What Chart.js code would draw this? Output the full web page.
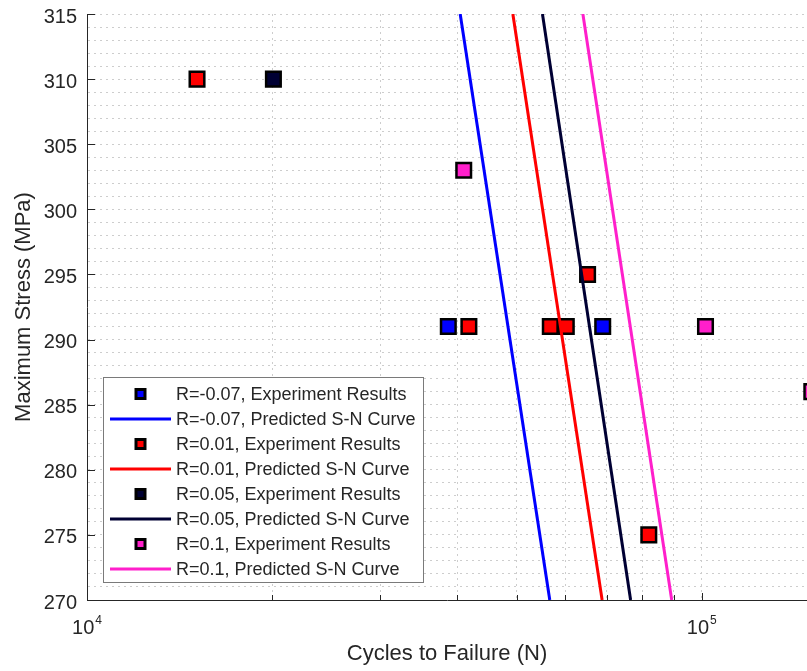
<!DOCTYPE html>
<html>
<head>
<meta charset="utf-8">
<title>S-N curves</title>
<script src="https://cdn.jsdelivr.net/npm/chart.js@4.4.0/dist/chart.umd.min.js"></script>
<style>
  html, body { margin: 0; padding: 0; background: #fff; }
  #wrap { width: 807px; height: 671px; }
</style>
</head>
<body>
<div id="wrap"><canvas id="sn-chart" width="807" height="671"></canvas></div>
<script>
// stress ratios and their colours
var ratios = ['R=-0.07', 'R=0.01', 'R=0.05', 'R=0.1'];
var colors = ['#0000ff', '#ff0000', '#000033', '#ff1fcb'];

// experiment results: cycles to failure (N) / max stress (MPa)
var expCycles = [
	[38700, 69000],
	[15100, 41800, 56700, 60200, 65200, 82000],
	[20100],
	[41000, 101400, 151000]
];
var expStress = [
	[291, 291],
	[310, 291, 291, 291, 295, 275],
	[310],
	[303, 291, 286]
];

// predicted S-N curves (straight on log x), read at top and bottom of the plot
var curveStress = [315, 270];
var curveCycles = [
	[40460, 56590],
	[49280, 68850],
	[55060, 76600],
	[64060, 89350]
];

// axes
var xMin = 10000, xMax = 148300;
var xGrid = [10000, 20000, 30000, 40000, 50000, 60000, 70000, 80000, 90000, 100000];
var xMajor = [10000, 100000];
var xExponents = ['4', '5'];
var yMin = 270, yMax = 315;
var yTicks = [270, 275, 280, 285, 290, 295, 300, 305, 310, 315];

var fontFamily = "'Liberation Sans', Arial, Helvetica, sans-serif";
var ink = '#262626';
var gridColor = '#cdcdcd';

var datasets = [];
ratios.forEach(function (r, i) {
	datasets.push({
		label: r + ', Experiment Results',
		data: expCycles[i].map(function (c, k) { return {x: c, y: expStress[i][k]}; }),
		showLine: false,
		pointStyle: 'rect',
		pointRadius: 10.3,
		pointBorderWidth: 2.5,
		pointBackgroundColor: colors[i],
		pointBorderColor: '#000000',
		backgroundColor: colors[i],
		borderColor: '#000000'
	});
	datasets.push({
		label: r + ', Predicted S-N Curve',
		data: curveCycles[i].map(function (c, k) { return {x: c, y: curveStress[k]}; }),
		showLine: true,
		pointRadius: 0,
		borderWidth: 3,
		borderColor: colors[i],
		backgroundColor: colors[i]
	});
});
// later series sit on top, like the original plot
datasets.forEach(function (ds, i) { ds.order = datasets.length - i; });

// no extra room for tick labels, the plot box is fixed
function noPadding(s) {
	s.paddingTop = 0;
	s.paddingBottom = 0;
	s.paddingLeft = 0;
	s.paddingRight = 0;
}

var axisExtras = {
	id: 'axisExtras',
	afterDraw: function (chart) {
		var ctx = chart.ctx, xs = chart.scales.x, ys = chart.scales.y, area = chart.chartArea;
		ctx.save();
		ctx.strokeStyle = ink;
		ctx.lineWidth = 1;
		ctx.beginPath();
		yTicks.forEach(function (v) {
			var py = Math.round(ys.getPixelForValue(v)) + 0.5;
			ctx.moveTo(area.left, py);
			ctx.lineTo(area.left + 8, py);
		});
		xGrid.forEach(function (v) {
			var px = Math.round(xs.getPixelForValue(v)) + 0.5;
			var len = xMajor.indexOf(v) >= 0 ? 7 : 5;
			ctx.moveTo(px, area.bottom);
			ctx.lineTo(px, area.bottom - len);
		});
		ctx.stroke();

		// 10^n labels
		ctx.fillStyle = ink;
		ctx.textAlign = 'left';
		ctx.textBaseline = 'alphabetic';
		xMajor.forEach(function (v, i) {
			var px = xs.getPixelForValue(v);
			ctx.font = '20px ' + fontFamily;
			var w1 = ctx.measureText('10').width;
			ctx.font = '12px ' + fontFamily;
			var w2 = ctx.measureText(xExponents[i]).width;
			var sx = px - (w1 + w2 + 1) / 2;
			ctx.font = '20px ' + fontFamily;
			ctx.fillText('10', sx, area.bottom + 34);
			ctx.font = '12px ' + fontFamily;
			ctx.fillText(xExponents[i], sx + w1 + 1, area.bottom + 24);
		});
		ctx.restore();
	}
};

var boxLegend = {
	id: 'boxLegend',
	afterDraw: function (chart) {
		var ctx = chart.ctx;
		var x0 = 103.5, y0 = 377.5, w = 320, h = 205;
		ctx.save();
		ctx.fillStyle = '#ffffff';
		ctx.fillRect(x0, y0, w, h);
		ctx.strokeStyle = '#7a7a7a';
		ctx.lineWidth = 1;
		ctx.strokeRect(x0, y0, w, h);

		ctx.font = '18px ' + fontFamily;
		ctx.textBaseline = 'middle';
		ctx.textAlign = 'left';
		chart.data.datasets.forEach(function (ds, i) {
			var y = 395.5 + i * 25;
			var sy = y - 1.5;
			if (ds.showLine) {
				ctx.strokeStyle = ds.borderColor;
				ctx.lineWidth = 3;
				ctx.beginPath();
				ctx.moveTo(110, sy);
				ctx.lineTo(171, sy);
				ctx.stroke();
			} else {
				ctx.fillStyle = ds.pointBackgroundColor;
				ctx.fillRect(136, sy - 4.5, 9, 9);
				ctx.strokeStyle = '#000000';
				ctx.lineWidth = 3;
				ctx.strokeRect(136, sy - 4.5, 9, 9);
			}
			ctx.fillStyle = ink;
			ctx.fillText(ds.label, 176, y);
		});
		ctx.restore();
	}
};

new Chart('sn-chart', {
	type: 'scatter',
	data: { datasets: datasets },
	plugins: [axisExtras, boxLegend],
	options: {
		responsive: false,
		animation: false,
		devicePixelRatio: 1,
		layout: { autoPadding: false, padding: { top: 14, right: 0, bottom: 0, left: 0 } },
		plugins: {
			legend: { display: false },
			tooltip: { enabled: false }
		},
		scales: {
			x: {
				type: 'logarithmic',
				min: xMin,
				max: xMax,
				afterBuildTicks: function (s) {
					s.ticks = xGrid.map(function (v) { return {value: v}; });
				},
				afterFit: function (s) { s.height = 71; noPadding(s); },
				ticks: {
					autoSkip: false,
					callback: function () { return ''; }
				},
				grid: { color: gridColor, lineWidth: 1, drawTicks: false },
				border: { display: true, color: ink, width: 1, dash: [2, 4] },
				title: {
					display: true,
					text: 'Cycles to Failure (N)',
					color: ink,
					font: { family: fontFamily, size: 22 },
					padding: { top: 0, bottom: 4 }
				}
			},
			y: {
				min: yMin,
				max: yMax,
				afterBuildTicks: function (s) {
					var t = [];
					for (var v = yMin; v <= yMax; v++) t.push({value: v});
					s.ticks = t;
				},
				afterFit: function (s) { s.width = 87; noPadding(s); },
				ticks: {
					autoSkip: false,
					padding: 10,
					labelOffset: 3,
					color: ink,
					font: { family: fontFamily, size: 20 },
					callback: function (v) { return yTicks.indexOf(v) >= 0 ? String(v) : ''; }
				},
				grid: { color: gridColor, lineWidth: 1, drawTicks: false },
				border: { display: true, color: ink, width: 1, dash: [2, 4] },
				title: {
					display: true,
					text: 'Maximum Stress (MPa)',
					color: ink,
					font: { family: fontFamily, size: 22 },
					padding: { top: 11, bottom: 0 }
				}
			}
		}
	}
});
</script>
</body>
</html>
